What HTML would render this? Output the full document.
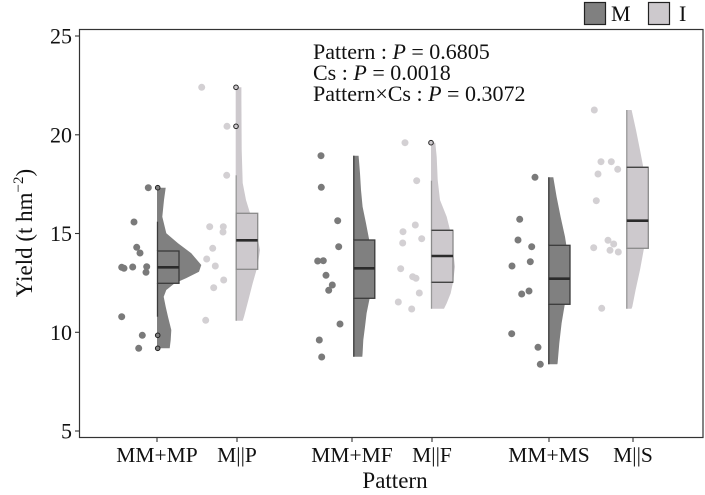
<!DOCTYPE html>
<html><head><meta charset="utf-8"><style>
html,body{margin:0;padding:0;background:#fff;}
svg{display:block;font-family:"Liberation Serif","Times New Roman",serif;}
</style></head><body>
<svg width="705" height="495" viewBox="0 0 705 495" xmlns="http://www.w3.org/2000/svg">
<rect width="705" height="495" fill="#fff"/>
<!-- legend -->
<rect x="584.5" y="2.5" width="21" height="22" fill="#808080" stroke="#222" stroke-width="1.2"/>
<text x="611" y="21" font-size="22" fill="#111">M</text>
<rect x="648.5" y="2.5" width="21" height="22" fill="#cdc9cd" stroke="#222" stroke-width="1.2"/>
<text x="679" y="21" font-size="22" fill="#111">I</text>

<!-- annotation -->
<text x="313" y="59" font-size="22" fill="#111">Pattern : <tspan font-style="italic">P</tspan> = 0.6805</text>
<text x="313" y="80" font-size="22" fill="#111">Cs : <tspan font-style="italic">P</tspan> = 0.0018</text>
<text x="313" y="101" font-size="22" fill="#111">Pattern×Cs : <tspan font-style="italic">P</tspan> = 0.3072</text>

<!-- violins -->
<polygon fill="#808080" points="157,187.7 165.7,187.7 164,200 162.3,216.7 166.3,233.3 178,243.3 191.3,253.3 201.3,265 199,271.7 186,278.3 174.7,283.3 166.3,290 163.7,296.7 165.7,306.7 168,316.7 171.3,330 170.7,340 169.7,348.3 157,348.3"/>
<polygon fill="#cdc9cd" points="235.7,87.3 241.4,87.3 241.4,100 241.7,150 242.7,183 246,200 250,213 256,230 260,250 258.5,260 256.7,269.3 252.7,283.3 248.4,300 244,316.7 242.7,320.7 235.7,320.7"/>
<polygon fill="#808080" points="353.3,155.7 358.6,155.7 360,173.3 361,190 362.6,206.7 366,223.3 368.6,236.7 371.3,250 373.3,270 371.3,290 369.3,300 366.6,313.3 365,326.7 363.3,340 362.6,353.3 362.3,356.7 353.3,356.7"/>
<polygon fill="#cdc9cd" points="431,142.7 435.3,142.7 436.7,156.7 437.7,180 440,200 446.7,216.7 450,230 453,250 455,266.7 453,282.3 450.7,293.3 446.7,303.3 444,308.7 431,308.7"/>
<polygon fill="#808080" points="548.3,177.3 553.3,177.3 556.6,196.7 560.6,216.7 565,236.7 566.3,245 569.3,270 567,290 564.8,304.3 561.6,323.3 559.3,343.3 557.6,363.3 557.3,364.3 548.3,364.3"/>
<polygon fill="#cdc9cd" points="626.3,110 631.6,110 636,130 640,150 643.3,167.3 648.3,200 647.3,230 644,248.3 640,270 635.6,290 632.3,306.7 631.5,308.7 626.3,308.7"/>

<!-- whiskers -->
<g stroke-width="1.3">
<line x1="157.5" y1="221.7" x2="157.5" y2="251" stroke="#3a3a3a"/>
<line x1="157.5" y1="283.3" x2="157.5" y2="316.7" stroke="#3a3a3a"/>
<line x1="236.2" y1="175.3" x2="236.2" y2="213.3" stroke="#999"/>
<line x1="236.2" y1="269.3" x2="236.2" y2="320.7" stroke="#999"/>
<line x1="353.8" y1="155.7" x2="353.8" y2="240" stroke="#3a3a3a"/>
<line x1="353.8" y1="298.3" x2="353.8" y2="356.7" stroke="#3a3a3a"/>
<line x1="431.5" y1="180.7" x2="431.5" y2="230.3" stroke="#999"/>
<line x1="431.5" y1="282.3" x2="431.5" y2="308.7" stroke="#999"/>
<line x1="548.8" y1="177.3" x2="548.8" y2="245.3" stroke="#3a3a3a"/>
<line x1="548.8" y1="304.3" x2="548.8" y2="364.3" stroke="#3a3a3a"/>
<line x1="626.8" y1="110" x2="626.8" y2="167.3" stroke="#999"/>
<line x1="626.8" y1="248.3" x2="626.8" y2="308.7" stroke="#999"/>
</g>

<!-- boxes -->
<rect x="157.5" y="251" width="21.5" height="32.3" fill="#808080" stroke="#3a3a3a" stroke-width="1.3"/>
<line x1="157.5" y1="267.3" x2="179" y2="267.3" stroke="#2b2b2b" stroke-width="2.6"/>
<rect x="236.2" y="213.3" width="21.5" height="56" fill="#cdc9cd" stroke="#8a8a8a" stroke-width="1.3"/>
<line x1="236.2" y1="240.3" x2="257.7" y2="240.3" stroke="#2b2b2b" stroke-width="2.6"/>
<rect x="353.8" y="240" width="21" height="58.3" fill="#808080" stroke="#3a3a3a" stroke-width="1.3"/>
<line x1="353.8" y1="268.3" x2="374.8" y2="268.3" stroke="#2b2b2b" stroke-width="2.6"/>
<rect x="431.5" y="230.3" width="21.5" height="52" fill="#cdc9cd" stroke="#8a8a8a" stroke-width="1.3"/>
<line x1="431.5" y1="230.3" x2="453" y2="230.3" stroke="#444" stroke-width="1.3"/>
<line x1="431.5" y1="282.3" x2="453" y2="282.3" stroke="#444" stroke-width="1.3"/>
<line x1="431.5" y1="256" x2="453" y2="256" stroke="#2b2b2b" stroke-width="2.6"/>
<rect x="548.8" y="245.3" width="21.2" height="59" fill="#808080" stroke="#3a3a3a" stroke-width="1.3"/>
<line x1="548.8" y1="278.7" x2="570" y2="278.7" stroke="#2b2b2b" stroke-width="2.6"/>
<rect x="626.8" y="167.3" width="21.5" height="81" fill="#cdc9cd" stroke="#8a8a8a" stroke-width="1.3"/>
<line x1="626.8" y1="167.3" x2="648.3" y2="167.3" stroke="#444" stroke-width="1.3"/>
<line x1="626.8" y1="220.7" x2="648.3" y2="220.7" stroke="#2b2b2b" stroke-width="2.6"/>

<!-- outliers -->
<g stroke="#222" stroke-width="1" >
<circle cx="157.7" cy="187.7" r="2.3" fill="#808080"/>
<circle cx="157.7" cy="335.3" r="2.3" fill="#808080"/>
<circle cx="157.7" cy="348.3" r="2.3" fill="#808080"/>
<circle cx="236" cy="87.3" r="2.3" fill="#cdc9cd"/>
<circle cx="236" cy="126.3" r="2.3" fill="#cdc9cd"/>
<circle cx="431" cy="142.7" r="2.3" fill="#cdc9cd"/>
</g>

<!-- dark points -->
<g fill="#7a7a7a">
<circle cx="148.3" cy="187.7" r="3.5"/><circle cx="134" cy="222" r="3.5"/><circle cx="136.7" cy="247.3" r="3.5"/>
<circle cx="140" cy="253" r="3.5"/><circle cx="121.7" cy="267.3" r="3.5"/><circle cx="124" cy="268.3" r="3.5"/>
<circle cx="132.7" cy="267" r="3.5"/><circle cx="146.7" cy="266.7" r="3.5"/><circle cx="146" cy="272.3" r="3.5"/>
<circle cx="121.7" cy="316.7" r="3.5"/><circle cx="142.3" cy="335.3" r="3.5"/><circle cx="138.7" cy="348.3" r="3.5"/>

<circle cx="321" cy="155.7" r="3.5"/><circle cx="321.3" cy="187.3" r="3.5"/><circle cx="337.7" cy="220.7" r="3.5"/>
<circle cx="338.7" cy="246.7" r="3.5"/><circle cx="317.7" cy="261" r="3.5"/><circle cx="323.3" cy="260.7" r="3.5"/>
<circle cx="326" cy="275.3" r="3.5"/><circle cx="332.3" cy="285" r="3.5"/><circle cx="328.7" cy="290.3" r="3.5"/>
<circle cx="340" cy="324" r="3.5"/><circle cx="319.3" cy="340" r="3.5"/><circle cx="321.7" cy="357" r="3.5"/>

<circle cx="535" cy="177.3" r="3.5"/><circle cx="519.7" cy="219.3" r="3.5"/><circle cx="518" cy="240" r="3.5"/>
<circle cx="531.7" cy="246.7" r="3.5"/><circle cx="530.3" cy="261.7" r="3.5"/><circle cx="512" cy="266" r="3.5"/>
<circle cx="529" cy="291" r="3.5"/><circle cx="521.7" cy="294" r="3.5"/><circle cx="511.7" cy="333.7" r="3.5"/>
<circle cx="538" cy="347.3" r="3.5"/><circle cx="540.3" cy="364.3" r="3.5"/>
</g>

<!-- light points -->
<g fill="#d3d0d3">
<circle cx="201.7" cy="87.3" r="3.5"/><circle cx="227" cy="126.3" r="3.5"/><circle cx="226.7" cy="175.3" r="3.5"/>
<circle cx="209.7" cy="226.7" r="3.5"/><circle cx="223.3" cy="226.7" r="3.5"/><circle cx="223" cy="232" r="3.5"/>
<circle cx="212.7" cy="248.3" r="3.5"/><circle cx="206.7" cy="259" r="3.5"/><circle cx="215.3" cy="266" r="3.5"/>
<circle cx="223.7" cy="280" r="3.5"/><circle cx="213.7" cy="287.7" r="3.5"/><circle cx="205.7" cy="320.3" r="3.5"/>

<circle cx="405" cy="142.7" r="3.5"/><circle cx="416.7" cy="180.7" r="3.5"/><circle cx="415.3" cy="225" r="3.5"/>
<circle cx="403" cy="231.7" r="3.5"/><circle cx="421.7" cy="238.7" r="3.5"/><circle cx="402.7" cy="243" r="3.5"/>
<circle cx="400.7" cy="268.7" r="3.5"/><circle cx="412.7" cy="276.7" r="3.5"/><circle cx="416" cy="278.3" r="3.5"/>
<circle cx="419.3" cy="293" r="3.5"/><circle cx="398.3" cy="302" r="3.5"/><circle cx="411.7" cy="309" r="3.5"/>

<circle cx="594.3" cy="110" r="3.5"/><circle cx="601" cy="161.7" r="3.5"/><circle cx="611.3" cy="161.7" r="3.5"/>
<circle cx="617.7" cy="169.3" r="3.5"/><circle cx="598" cy="174" r="3.5"/><circle cx="596.3" cy="200.7" r="3.5"/>
<circle cx="608" cy="240.3" r="3.5"/><circle cx="613.7" cy="244" r="3.5"/><circle cx="593.7" cy="247.7" r="3.5"/>
<circle cx="610" cy="250.3" r="3.5"/><circle cx="618.3" cy="252" r="3.5"/><circle cx="601.7" cy="308.3" r="3.5"/>
</g>

<!-- panel frame -->
<rect x="79.5" y="29.5" width="623.5" height="408" fill="none" stroke="#333" stroke-width="1.2"/>

<!-- y ticks -->
<g stroke="#333" stroke-width="1.1">
<line x1="75" y1="36" x2="79" y2="36"/>
<line x1="75" y1="134.8" x2="79" y2="134.8"/>
<line x1="75" y1="233.5" x2="79" y2="233.5"/>
<line x1="75" y1="332.3" x2="79" y2="332.3"/>
<line x1="75" y1="431" x2="79" y2="431"/>
</g>
<g font-size="22" fill="#111" text-anchor="end">
<text x="72" y="43.5">25</text>
<text x="72" y="142.3">20</text>
<text x="72" y="241">15</text>
<text x="72" y="339.8">10</text>
<text x="72" y="438.5">5</text>
</g>

<!-- x ticks -->
<g stroke="#333" stroke-width="1.1">
<line x1="157" y1="438" x2="157" y2="442"/>
<line x1="237" y1="438" x2="237" y2="442"/>
<line x1="352" y1="438" x2="352" y2="442"/>
<line x1="432" y1="438" x2="432" y2="442"/>
<line x1="549" y1="438" x2="549" y2="442"/>
<line x1="633" y1="438" x2="633" y2="442"/>
</g>
<g font-size="21.5" fill="#111" text-anchor="middle">
<text x="157" y="462">MM+MP</text>
<text x="237" y="462">M||P</text>
<text x="352" y="462">MM+MF</text>
<text x="432" y="462">M||F</text>
<text x="549" y="462">MM+MS</text>
<text x="633" y="462">M||S</text>
</g>

<!-- axis titles -->
<text x="395" y="488" font-size="23" fill="#111" text-anchor="middle">Pattern</text>
<text transform="translate(32,233) rotate(-90)" font-size="23" fill="#111" text-anchor="middle">Yield (t hm<tspan font-size="15" dy="-9">−2</tspan><tspan dy="9">)</tspan></text>
</svg>
</body></html>
